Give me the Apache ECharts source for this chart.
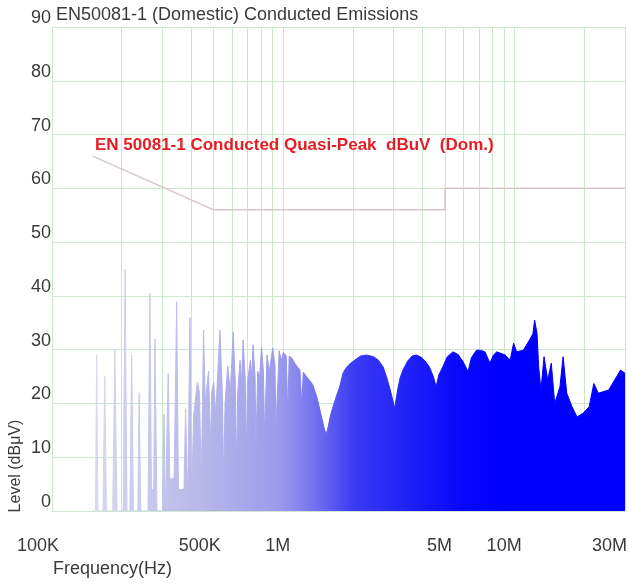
<!DOCTYPE html>
<html>
<head>
<meta charset="utf-8">
<script src="https://cdn.jsdelivr.net/npm/echarts@6/dist/echarts.min.js"></script>
<style>
html,body{margin:0;padding:0;background:#fff;}
#chart{width:628px;height:586px;}
</style>
</head>
<body>
<div id="chart"></div>
<script>
// ---- data ----
const titleText = 'EN50081-1 (Domestic) Conducted Emissions';
const limitName = 'EN 50081-1 Conducted Quasi-Peak  dBuV  (Dom.)';

// limit line: frequency (MHz) / level (dBuV)
const limitFreqMHz = [0.15, 0.5, 5, 5, 30];
const limitDb = [66, 56, 56, 60, 60];

// measured emission trace: frequency (MHz) / level (dBuV)
const emiFreqMHz = [
  0.150, 0.154, 0.156, 0.158, 0.166, 0.169, 0.172, 0.183, 0.187, 0.191,
  0.203, 0.207, 0.211, 0.217, 0.221, 0.225, 0.235, 0.238, 0.242, 0.260,
  0.265, 0.269, 0.275, 0.279, 0.284, 0.300, 0.305, 0.309, 0.314, 0.318,
  0.323, 0.337, 0.346, 0.352, 0.372, 0.378, 0.386, 0.395, 0.401, 0.410,
  0.425, 0.434, 0.442, 0.452, 0.460, 0.475, 0.485, 0.490, 0.500, 0.510,
  0.532, 0.545, 0.552, 0.560, 0.575, 0.590, 0.607, 0.620, 0.628, 0.635,
  0.650, 0.660, 0.670, 0.685, 0.692, 0.700, 0.720, 0.730, 0.740, 0.755,
  0.762, 0.775, 0.790, 0.805, 0.820, 0.830, 0.850, 0.870, 0.900, 0.920,
  0.930, 0.960, 0.980, 1.00, 1.03, 1.045, 1.06, 1.09, 1.12, 1.15,
  1.18, 1.20, 1.22, 1.26, 1.34, 1.40, 1.45, 1.50, 1.53, 1.56,
  1.60, 1.64, 1.70, 1.75, 1.81, 1.86, 1.92, 2.00, 2.15,
  2.29, 2.45, 2.57, 2.70, 2.79, 2.90, 3.03, 3.12, 3.20, 3.29,
  3.45, 3.60, 3.76, 3.95, 4.10, 4.28, 4.45, 4.58, 4.70, 4.89,
  5.10, 5.41, 5.70, 5.98, 6.29, 6.50, 6.84, 7.10, 7.44, 7.82,
  8.10, 8.37, 9.10, 9.57, 9.90, 10.2, 10.9, 11.6, 12.0,
  12.2, 12.5, 12.7, 13.0, 13.4, 13.9, 14.4, 14.9, 15.7,
  16.2, 16.8, 17.7, 18.6, 19.8, 21.0, 22.0, 23.0, 25.5, 28.7,
  30.0
];
const emiLevel = [
  0, 0, 29, 0, 0, 25, 0, 0, 30, 0,
  0, 45, 0, 0, 29, 0, 0, 22, 0, 0,
  40.5, 4, 4, 32, 0, 0, 18, 0, 0, 25.6,
  6, 6, 38.9, 4, 4, 19, 2, 36, 3, 18,
  24, 22, 5, 33.6, 20, 26, 12, 22, 24, 18,
  33.6, 22, 6, 20, 27, 22, 33.3, 24, 8, 22,
  28, 24, 31.8, 24, 10, 24, 28, 25, 30.9, 25,
  12, 26, 25, 30.5, 26, 14, 29, 26, 30.3, 27,
  16, 29.8, 28, 29.5, 28.8, 18, 28.8, 28.4, 27.5, 26.8,
  26.2, 20, 25.8, 25, 23.5, 21, 18.2, 15.5, 14.2, 15.5,
  17.8, 19.4, 21.5, 23, 25.6, 26.5, 27.2, 27.8, 28.8,
  29.0, 28.7, 28.1, 26.8, 25, 22.5, 19.1, 22.5, 24.8, 26.2,
  27.9, 28.8, 29, 28.6, 27.9, 26.8, 25, 23.1, 25.3, 26.8,
  28.6, 29.6, 29.1, 27.8, 25.9, 28.5, 29.9, 29.9, 29.6, 27.5,
  29.0, 29.6, 29, 28.1, 31.2, 29.6, 29.9, 31.8, 33,
  35.5, 33, 26.8, 22.5, 28.7, 24.3, 27.5, 20, 23.1,
  28.7, 21.9, 19.4, 17.5, 18.2, 19.4, 23.7, 21.9, 22.5, 26.2,
  25.6
];

// axis ticks
const yMin = 0, yMax = 90, yStep = 10;
const xLabelHz = [1e5, 5e5, 1e6, 5e6, 1e7, 3e7];
const xLabelText = ['100K', '500K', '1M', '5M', '10M', '30M'];
const gridMultipliers = [1, 2, 3, 4, 5, 6, 7, 8, 9];
const gridDecades = [1e5, 1e6, 1e7];

// ---- build ----
const xGridHz = [];
gridDecades.forEach(d => gridMultipliers.forEach(m => { if (m * d <= 3e7) xGridHz.push(m * d); }));
const emiData = emiFreqMHz.map((f, i) => [f * 1e6, emiLevel[i]]);
const limitData = limitFreqMHz.map((f, i) => [f * 1e6, limitDb[i]]);
const labelMap = {};
xLabelHz.forEach((v, i) => { labelMap[v] = xLabelText[i]; });
const lastLabelHz = xLabelHz[xLabelHz.length - 1];

const blueGrad = {
  type: 'linear', x: 0, y: 0, x2: 628, y2: 0, global: true,
  colorStops: [
    { offset: 0.148, color: '#d8d8ee' },
    { offset: 0.318, color: '#b8b8ea' },
    { offset: 0.446, color: '#9a9aec' },
    { offset: 0.494, color: '#7878f0' },
    { offset: 0.525, color: '#5c5cf0' },
    { offset: 0.565, color: '#3a3af4' },
    { offset: 0.669, color: '#1a1af8' },
    { offset: 0.732, color: '#0808fc' },
    { offset: 0.800, color: '#0000ff' },
    { offset: 1.000, color: '#0000ff' }
  ]
};

const FONT = 'Liberation Sans, Arial, sans-serif';
const chart = echarts.init(document.getElementById('chart'), null, { renderer: 'canvas' });
chart.setOption({
  animation: false,
  backgroundColor: '#fff',
  textStyle: { fontFamily: FONT },
  title: [
    { text: titleText, left: 56, top: 6, padding: 0,
      textStyle: { fontSize: 18, fontWeight: 'normal', color: '#3a3a3a', fontFamily: FONT } },
    { text: limitName, left: 95, top: 137, padding: 0,
      textStyle: { fontSize: 17, fontWeight: 'bold', color: '#e31e24', fontFamily: FONT } }
  ],
  grid: { left: 52, right: 3, top: 27, bottom: 75, containLabel: false, outerBoundsMode: 'none' },
  xAxis: {
    type: 'log', logBase: 10, min: 1e5, max: 3e7,
    axisLine: { show: false },
    axisTick: { show: false, customValues: xGridHz },
    splitLine: { show: true, lineStyle: { color: '#c8e8c8', width: 1 } },
    axisLabel: {
      customValues: xLabelHz,
      formatter: v => (v === lastLabelHz ? '{e|' + labelMap[v] + '}' : (labelMap[v] || '')),
      rich: { e: { fontSize: 18, color: '#3a3a3a', fontFamily: FONT, padding: [0, 5, 0, 0] } },
      align: 'right', margin: 26, fontSize: 18, color: '#3a3a3a',
      padding: [0, -7, 0, 0],
      showMinLabel: true, showMaxLabel: true
    }
  },
  yAxis: {
    type: 'value', min: yMin, max: yMax, interval: yStep,
    axisLine: { show: false },
    axisTick: { show: false },
    splitLine: { show: true, lineStyle: { color: '#cfe6cf', width: 1 } },
    axisLabel: { fontSize: 18, color: '#3a3a3a', margin: 1, verticalAlign: 'bottom',
      showMinLabel: true, showMaxLabel: true }
  },
  graphic: [
    { type: 'text', left: 53, top: 560,
      style: { text: 'Frequency(Hz)', fontSize: 18, fill: '#3a3a3a', fontFamily: FONT } },
    { type: 'text', x: 16, y: 466, rotation: Math.PI / 2,
      style: { text: 'Level (dBμV)', fontSize: 16, fill: '#3a3a3a', align: 'center', verticalAlign: 'middle',
        fontFamily: FONT } }
  ],
  series: [
    {
      type: 'line', data: emiData, showSymbol: false, symbol: 'none',
      lineStyle: { width: 1, color: blueGrad },
      areaStyle: { color: blueGrad, opacity: 1, origin: 'start' },
      z: 2
    },
    {
      type: 'line', data: limitData, showSymbol: false, symbol: 'none',
      lineStyle: { width: 1.5, color: '#d8c6c6' },
      z: 3
    }
  ]
});
</script>
</body>
</html>
